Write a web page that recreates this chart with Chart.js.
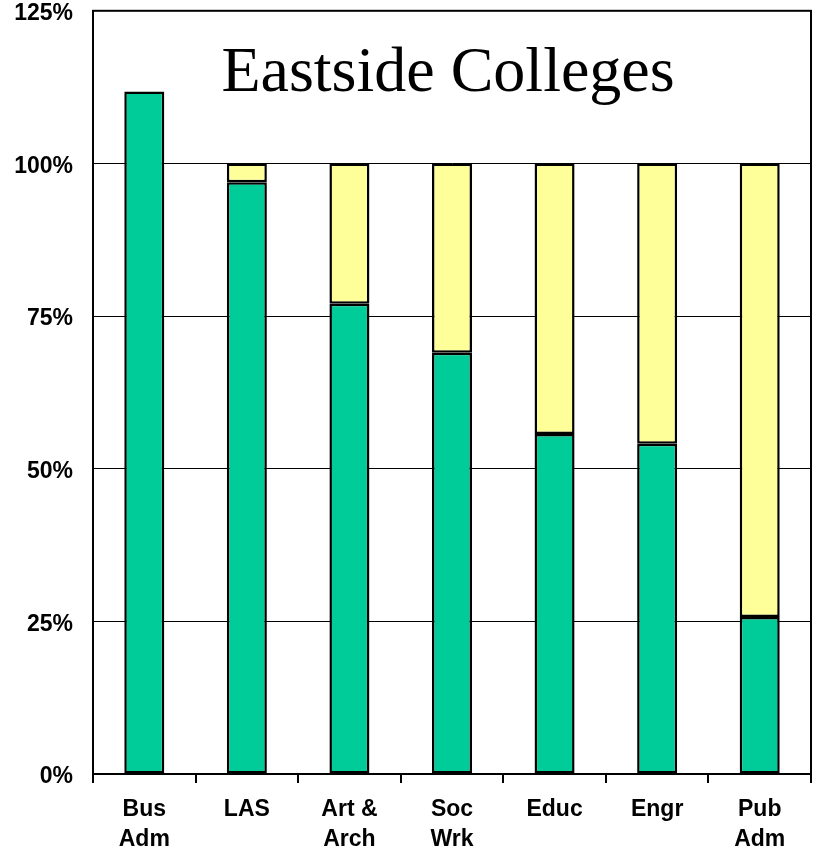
<!DOCTYPE html>
<html>
<head>
<meta charset="utf-8">
<script src="https://cdn.jsdelivr.net/npm/chart.js@4/dist/chart.umd.min.js"></script>
<style>
html,body{margin:0;padding:0;background:#fff;overflow:hidden;}
#wrap{width:815px;height:846px;overflow:hidden;position:relative;}
#c{position:absolute;left:0;top:-23px;}
</style>
</head>
<body>
<div id="wrap"><canvas id="c" width="815" height="869"></canvas></div>
<script>
const categories = [["Bus","Adm"],["LAS"],["Art &","Arch"],["Soc","Wrk"],["Educ"],["Engr"],["Pub","Adm"]];
const greenValues = [111.8, 96.9, 77.0, 69.0, 55.7, 54.1, 25.7];
const yellowValues = [0, 3.1, 23.0, 31.0, 44.3, 45.9, 74.3];
const yTicks = [0, 25, 50, 75, 100, 125];
const titleText = "Eastside Colleges";

const frame = {
  id: 'frame',
  afterDraw(chart) {
    const {ctx, chartArea: a} = chart;
    ctx.save();
    ctx.strokeStyle = '#000';
    ctx.lineWidth = 2;
    ctx.strokeRect(a.left, a.top, a.right - a.left, a.bottom - a.top);
    ctx.restore();
  }
};
const innerTitle = {
  id: 'innerTitle',
  afterDatasetsDraw(chart) {
    const {ctx, chartArea: a} = chart;
    ctx.save();
    ctx.font = '64px "Liberation Serif", "Times New Roman", serif';
    ctx.fillStyle = '#000';
    ctx.textAlign = 'center';
    ctx.textBaseline = 'alphabetic';
    ctx.fillText(titleText, 448, a.top + 80);
    ctx.restore();
  }
};

new Chart(document.getElementById('c'), {
  type: 'bar',
  data: {
    labels: categories,
    datasets: [
      {label: 'A', data: greenValues, backgroundColor: '#00CC99', borderColor: '#000', borderWidth: 2.5, borderSkipped: false, categoryPercentage: 1, barPercentage: 0.39},
      {label: 'B', data: yellowValues, backgroundColor: '#FFFF99', borderColor: '#000', borderWidth: 2.5, borderSkipped: false, categoryPercentage: 1, barPercentage: 0.39}
    ]
  },
  options: {
    responsive: false,
    animation: false,
    layout: {padding: {top: 0, right: 4, left: 0, bottom: 0}},
    plugins: {legend: {display: false}, tooltip: {enabled: false}, title: {display: false}},
    scales: {
      x: {
        stacked: true,
        offset: true,
        grid: {display: true, offset: true, drawOnChartArea: false, drawTicks: true, tickLength: 9, color: '#000', lineWidth: 2},
        border: {display: true, color: '#000', width: 2},
        ticks: {color: '#000', padding: 12, maxRotation: 0, autoSkip: false, font: {family: 'Liberation Sans, Arial, sans-serif', weight: 'bold', size: 23, lineHeight: 1.3}},
        afterFit(s) { s.height = 72; }
      },
      y: {
        stacked: true,
        min: 0, max: 125,
        afterBuildTicks(s) { s.ticks = yTicks.map(v => ({value: v})); },
        grid: {color: '#000', lineWidth: 1, drawTicks: false},
        border: {display: true, color: '#000', width: 2},
        ticks: {color: '#000', padding: 20, labelOffset: 3, callback: v => v + '%', font: {family: 'Liberation Sans, Arial, sans-serif', weight: 'bold', size: 23}},
        afterFit(s) { s.width = 93; }
      }
    }
  },
  plugins: [frame, innerTitle]
});
</script>
</body>
</html>
